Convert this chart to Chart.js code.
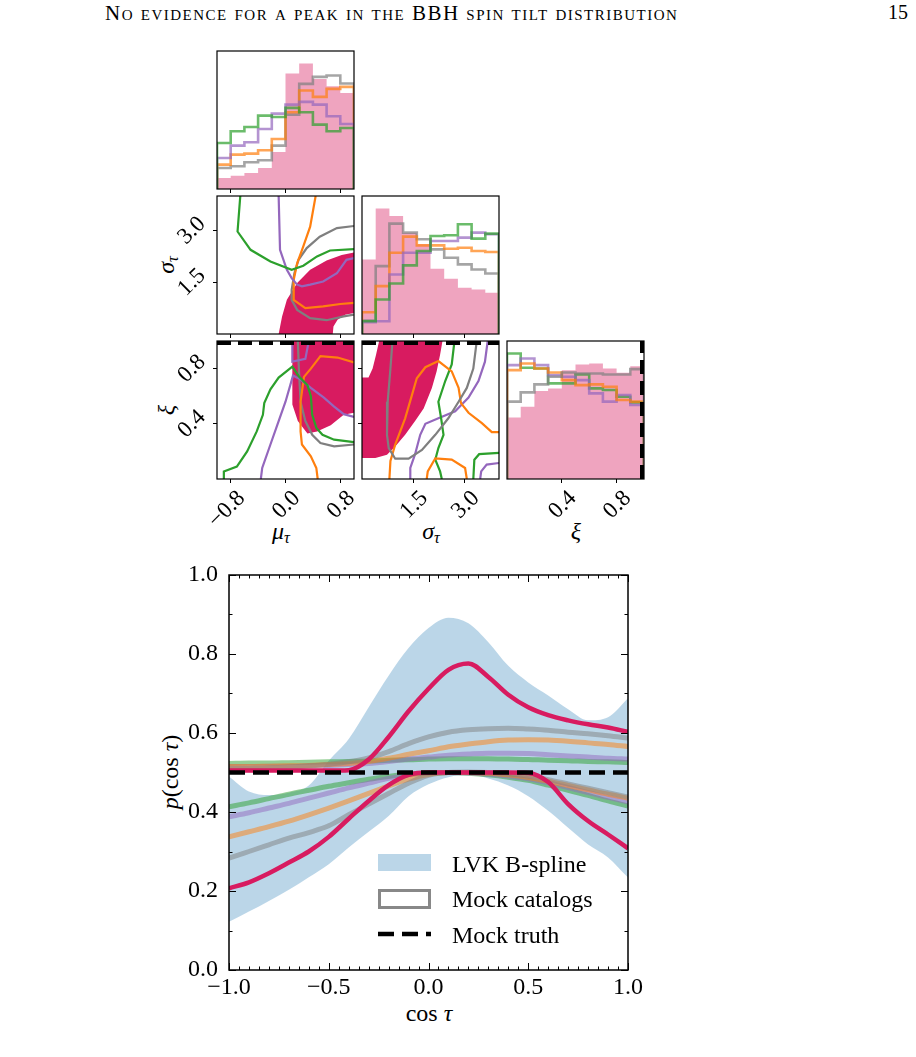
<!DOCTYPE html>
<html>
<head>
<meta charset="utf-8">
<script src="https://cdn.jsdelivr.net/npm/chart.js@4.4.0/dist/chart.umd.min.js"></script>
<style>
  body { margin: 0; background: #fff; width: 916px; height: 1057px; position: relative; overflow: hidden;
         font-family: "Liberation Serif", serif; color: #000; }
  canvas { position: absolute; }
  .lbl { position: absolute; transform: translate(-50%, -50%); white-space: nowrap; }
  .rot { transform: translate(-50%, -50%) rotate(-90deg); }
  .lbl i { font-style: italic; }
  sub { font-size: 0.68em; vertical-align: -0.3em; line-height: 0; }
  #header { position: absolute; left: 105px; top: 1px; font-size: 21px; letter-spacing: 1.5px; font-variant: small-caps; }
  #pageno { position: absolute; left: 888px; top: 1px; font-size: 20px; }
</style>
</head>
<body>
<div id="header">No evidence for a peak in the BBH spin tilt distribution</div>
<div id="pageno">15</div>

<div class="lbl" style="left:281px; top:531px; font-size:24px;"><i>μ</i><sub><i>τ</i></sub></div>
<div class="lbl" style="left:431px; top:531px; font-size:24px;"><i>σ</i><sub><i>τ</i></sub></div>
<div class="lbl" style="left:576px; top:531px; font-size:24px;"><i>ξ</i></div>
<div class="lbl rot" style="left:166px; top:265px; font-size:24px;"><i>σ</i><sub><i>τ</i></sub></div>
<div class="lbl rot" style="left:166px; top:410px; font-size:24px;"><i>ξ</i></div>
<div class="lbl rot" style="left:170px; top:772px; font-size:24px;"><i>p</i>(cos <i>τ</i>)</div>
<div class="lbl" style="left:429px; top:1013px; font-size:24px;">cos <i>τ</i></div>

<script>
Chart.defaults.font.family = '"Liberation Serif", serif';
Chart.defaults.color = '#000';
Chart.defaults.animation = false;

// ---------------- corner plot: 1D histograms ----------------
const muEdges  = [-1.0, -0.8, -0.6, -0.4, -0.2, 0.0, 0.2, 0.4, 0.6, 0.8, 1.0];
const sigEdges = [0.0, 0.4, 0.8, 1.2, 1.6, 2.0, 2.4, 2.8, 3.2, 3.6, 4.0];
const xiEdges  = [0.0, 0.1, 0.2, 0.3, 0.4, 0.5, 0.6, 0.7, 0.8, 0.9, 1.0];

const muHistLVK    = [0.33, 0.40, 0.48, 0.63, 1.11, 3.46, 3.76, 3.30, 3.08, 2.88];
const muHistGray   = [0.63, 0.68, 0.80, 0.86, 1.30, 2.23, 3.15, 3.36, 3.40, 3.16];
const muHistOrange = [0.73, 1.03, 1.06, 1.16, 1.50, 2.30, 2.95, 2.76, 3.00, 3.06];
const muHistPurple = [0.93, 1.30, 1.40, 1.80, 2.26, 2.53, 2.61, 2.53, 2.18, 1.95];
const muHistGreen  = [1.38, 1.73, 1.86, 2.20, 2.16, 2.43, 2.30, 1.93, 1.73, 1.83];

const sigHistLVK    = [2.23, 3.75, 3.53, 3.03, 2.68, 1.95, 1.65, 1.38, 1.33, 1.23];
const sigHistGray   = [0.40, 2.03, 3.30, 3.03, 2.83, 2.53, 2.28, 2.08, 1.93, 1.81];
const sigHistOrange = [0.65, 1.43, 2.43, 2.91, 2.65, 2.65, 2.55, 2.58, 2.48, 2.45];
const sigHistPurple = [0.35, 0.38, 1.78, 2.43, 2.43, 2.78, 2.78, 2.88, 3.03, 2.98];
const sigHistGreen  = [0.38, 1.03, 1.51, 2.05, 2.48, 2.93, 2.95, 3.28, 2.85, 3.00];

const xiHistLVK    = [1.85, 2.18, 2.65, 2.73, 3.28, 3.45, 3.48, 3.33, 3.20, 3.40];
const xiHistGray   = [2.33, 2.61, 2.85, 3.08, 3.21, 3.18, 3.18, 3.15, 3.15, 3.31];
const xiHistOrange = [3.28, 3.48, 3.33, 3.21, 2.98, 2.83, 2.85, 2.78, 2.38, 2.33];
const xiHistPurple = [3.43, 3.63, 3.43, 3.13, 3.08, 2.98, 2.58, 2.33, 2.53, 2.23];
const xiHistGreen  = [3.78, 3.35, 3.33, 2.88, 2.88, 3.15, 2.73, 2.68, 2.48, 2.31];

// ---------------- corner plot: 2D contours [x, y] ----------------
const muSigLVK = [[-0.10,0],[-0.05,0.51],[0.02,0.99],[0.17,1.48],[0.36,1.86],[0.60,2.13],[0.82,2.29],[1.0,2.36],
                  [1.0,0.61],[0.87,0.56],[0.76,0.41],[0.70,0.22],[0.69,0],[-0.10,0]];
const muSigGreen  = [[-0.66,4.0],[-0.70,2.97],[-0.51,2.44],[-0.22,2.10],[0.09,1.86],[0.26,1.98],[0.46,2.25],[0.65,2.42],[1.0,2.46]];
const muSigPurple = [[-0.10,4.0],[-0.08,2.44],[0.02,1.86],[0.09,1.62],[0.17,1.43],[0.24,1.38],[0.36,1.43],[0.55,1.52],[0.75,1.76],[0.89,2.15],[1.0,2.20]];
const muSigOrange = [[0.44,4.0],[0.36,3.11],[0.26,2.54],[0.17,2.05],[0.12,1.57],[0.12,0.99],[0.29,0.75],[0.55,0.80],[0.80,0.87],[1.0,0.90]];
const muSigGray   = [[1.0,3.13],[0.75,3.07],[0.50,2.82],[0.31,2.49],[0.19,2.15],[0.13,1.76],[0.09,1.28],[0.09,0.99],[0.17,0.70],[0.36,0.46],[0.60,0.40],[0.85,0.51],[1.0,0.56]];

const muXiLVK = [[0.10,1.0],[0.10,0.54],[0.18,0.42],[0.32,0.33],[0.46,0.345],[0.66,0.39],[0.85,0.465],[1.0,0.48],[1.0,1.0],[0.10,1.0]];
const muXiGreen  = [[-0.91,0],[-0.90,0.055],[-0.71,0.09],[-0.56,0.20],[-0.42,0.345],[-0.33,0.465],[-0.31,0.55],[-0.22,0.65],[-0.10,0.735],
                    [0.10,0.815],[0.20,0.74],[0.32,0.68],[0.37,0.60],[0.39,0.465],[0.45,0.37],[0.54,0.32],[0.71,0.285],[1.0,0.267]];
const muXiPurple = [[-0.36,0],[-0.34,0.08],[-0.22,0.25],[-0.10,0.42],[0.0,0.56],[0.07,0.68],[0.11,0.75],[0.22,0.72],[0.37,0.66],
                    [0.56,0.59],[0.71,0.525],[0.85,0.47],[1.0,0.45]];
const muXiPurple2 = [[0.10,1.0],[0.10,0.85],[0.29,0.87],[0.34,1.0]];
const muXiOrange = [[0.47,0],[0.45,0.08],[0.37,0.165],[0.24,0.25],[0.22,0.345],[0.22,0.56],[0.27,0.74],[0.37,0.80],[0.51,0.89],[0.76,0.88],[1.0,0.845]];
const muXiGray   = [[0.18,1.0],[0.195,0.80],[0.22,0.56],[0.29,0.42],[0.39,0.32],[0.51,0.26],[0.71,0.236],[1.0,0.25]];

const sigXiLVK = [[0,0.735],[0.19,0.735],[0.31,0.80],[0.41,0.90],[0.50,1.0],[2.35,1.0],[2.28,0.90],[2.18,0.78],[2.04,0.66],[1.80,0.51],
                  [1.55,0.42],[1.26,0.32],[0.97,0.236],[0.73,0.176],[0.39,0.152],[0,0.152],[0,0.735]];
const sigXiGray    = [[0.89,1.0],[0.83,0.80],[0.75,0.56],[0.73,0.32],[0.78,0.224],[0.97,0.147],[1.36,0.147],[1.75,0.21],[2.14,0.32],
                      [2.52,0.44],[2.82,0.56],[3.06,0.66],[3.25,0.80],[3.35,1.0]];
const sigXiOrange  = [[0.80,0],[0.83,0.13],[0.97,0.25],[1.26,0.44],[1.46,0.61],[1.60,0.73],[1.85,0.81],[2.23,0.855],[2.62,0.78],
                      [2.82,0.66],[2.89,0.55],[3.11,0.48],[3.50,0.405],[3.79,0.34],[4.0,0.34]];
const sigXiOrange2 = [[1.89,0],[1.92,0.055],[2.14,0.15],[2.62,0.14],[3.01,0.08],[3.06,0]];
const sigXiGreen   = [[2.70,1.0],[2.62,0.83],[2.43,0.71],[2.23,0.56],[2.31,0.44],[2.38,0.32],[2.23,0.224],[2.14,0.14],[2.28,0.055],[2.33,0]];
const sigXiGreen2  = [[3.25,0],[3.28,0.14],[3.42,0.18],[4.0,0.19]];
const sigXiPurple  = [[3.67,1.0],[3.59,0.85],[3.40,0.71],[3.11,0.59],[2.72,0.49],[2.23,0.44],[1.85,0.40],[1.70,0.32],[1.55,0.18],[1.41,0.08],[1.41,0]];
const sigXiPurple2 = [[3.45,0],[3.48,0.055],[3.64,0.104],[4.0,0.116]];

const xiTruth = 1.0;

// ---------------- main panel: p(cos tau) ----------------
const cosTau = [-1.0,-0.9,-0.8,-0.7,-0.6,-0.5,-0.4,-0.3,-0.2,-0.1,0.0,0.1,0.2,0.3,0.4,0.5,0.6,0.7,0.8,0.9,1.0];
const lvkUpper = [0.490,0.452,0.443,0.449,0.467,0.530,0.585,0.665,0.745,0.815,0.866,0.892,0.878,0.830,0.770,0.728,0.695,0.660,0.632,0.640,0.688];
const lvkLower = [0.122,0.148,0.175,0.203,0.235,0.268,0.310,0.350,0.390,0.440,0.470,0.488,0.494,0.485,0.467,0.440,0.403,0.360,0.318,0.285,0.234];
const pinkUpper   = [0.505,0.505,0.505,0.505,0.505,0.505,0.506,0.533,0.590,0.655,0.712,0.760,0.776,0.742,0.697,0.665,0.645,0.632,0.622,0.614,0.603];
const pinkLower   = [0.207,0.222,0.245,0.272,0.300,0.337,0.383,0.428,0.468,0.494,0.500,0.500,0.500,0.500,0.500,0.499,0.476,0.420,0.377,0.343,0.308];
const grayUpper   = [0.510,0.511,0.512,0.514,0.517,0.521,0.527,0.537,0.553,0.573,0.590,0.602,0.608,0.611,0.612,0.610,0.607,0.602,0.598,0.593,0.587];
const grayLower   = [0.283,0.300,0.317,0.334,0.348,0.365,0.393,0.420,0.447,0.473,0.493,0.500,0.501,0.500,0.497,0.491,0.482,0.471,0.460,0.449,0.438];
const tanUpper    = [0.515,0.515,0.516,0.517,0.518,0.520,0.523,0.528,0.536,0.546,0.555,0.565,0.572,0.578,0.582,0.583,0.582,0.579,0.575,0.571,0.566];
const tanLower    = [0.337,0.350,0.363,0.377,0.393,0.410,0.428,0.447,0.466,0.483,0.495,0.500,0.500,0.498,0.494,0.487,0.478,0.467,0.456,0.445,0.435];
const purpleUpper = [0.515,0.515,0.516,0.516,0.517,0.518,0.520,0.523,0.528,0.534,0.539,0.544,0.547,0.549,0.549,0.548,0.545,0.542,0.539,0.536,0.534];
const purpleLower = [0.388,0.398,0.410,0.422,0.435,0.448,0.461,0.473,0.485,0.494,0.499,0.500,0.499,0.496,0.491,0.484,0.474,0.462,0.449,0.437,0.425];
const greenUpper  = [0.523,0.524,0.524,0.525,0.526,0.527,0.528,0.529,0.531,0.532,0.534,0.535,0.535,0.535,0.534,0.533,0.531,0.530,0.528,0.527,0.525];
const greenLower  = [0.413,0.423,0.434,0.445,0.455,0.465,0.474,0.483,0.490,0.496,0.499,0.500,0.498,0.494,0.488,0.480,0.468,0.455,0.442,0.428,0.415];
const truthLevel = 0.5;
const legendLabels = ['LVK B-spline', 'Mock catalogs', 'Mock truth'];

// ---------------- styles ----------------
const CRIMSON = '#d81b60';
const PINK = 'rgba(216,27,96,0.4)';
const BAND = 'rgba(31,119,180,0.3)';
const C = { gray: '#7f7f7f', orange: '#ff7f0e', purple: '#9467bd', green: '#2ca02c' };
const alpha = (hex, a) => {
  const n = parseInt(hex.slice(1), 16);
  return `rgba(${n >> 16},${(n >> 8) & 255},${n & 255},${a})`;
};
const fmt = v => v.toFixed(1).replace('-', '\u2212');
const pts = arr => arr.map(([x, y]) => ({x, y}));
const xy = (xs, ys) => xs.map((x, i) => ({x, y: ys[i]}));

function stepPts(edges, h) {
  const out = [{x: edges[0], y: 0}];
  h.forEach((v, i) => { out.push({x: edges[i], y: v}); out.push({x: edges[i + 1], y: v}); });
  out.push({x: edges[edges.length - 1], y: 0});
  return out;
}

// axis sizes are fixed so that every plot area lands where the figure has it
const fixSize = (isX, size) => s => {
  if (isX) s.height = size; else s.width = size;
  s.paddingTop = s.paddingBottom = s.paddingLeft = s.paddingRight = 0;
};

// frame round the plot area
const frame = {
  id: 'frame',
  afterDatasetsDraw(chart, args, opts) {
    const {ctx, chartArea: a} = chart;
    ctx.save();
    ctx.strokeStyle = '#000';
    ctx.lineWidth = opts.width || 1;
    ctx.strokeRect(a.left, a.top, a.right - a.left, a.bottom - a.top);
    ctx.restore();
  }
};

// ---------------- corner panels ----------------
const COLS = [217, 362, 507];
const ROWS = [51, 196, 341];
const PW = 137, PH = 138;
const PAD_L = 60, PAD_T = 6, PAD_R = 6, PAD_B = 70;

function cornerAxis(isX, min, max, ticks, labels) {
  return {
    type: 'linear', min, max,
    afterBuildTicks: s => { if (ticks) s.ticks = ticks.map(v => ({value: v})); },
    afterFit: fixSize(isX, isX ? PAD_B : PAD_L),
    grid: { display: !!ticks, drawOnChartArea: false, drawTicks: true, tickLength: 4, color: '#000', tickColor: '#000' },
    border: { display: false },
    ticks: { display: !!labels, font: {size: 23}, minRotation: 45, maxRotation: 45, padding: isX ? 2 : 11,
             labelOffset: isX ? 11 : -10, callback: fmt, color: '#000' }
  };
}

function cornerPanel(col, row, o) {
  const cv = document.createElement('canvas');
  cv.width = PAD_L + PW + PAD_R;
  cv.height = PAD_T + PH + PAD_B;
  cv.style.left = (COLS[col] - PAD_L) + 'px';
  cv.style.top = (ROWS[row] - PAD_T) + 'px';
  document.body.appendChild(cv);
  new Chart(cv, {
    type: 'line',
    data: { datasets: o.datasets },
    options: {
      responsive: false,
      animation: false,
      layout: { padding: {top: PAD_T, right: PAD_R, left: 0, bottom: 0} },
      elements: { point: {radius: 0}, line: {tension: 0} },
      plugins: { legend: {display: false}, tooltip: {enabled: false}, frame: {width: 1.2} },
      scales: {
        x: cornerAxis(true, o.x[0], o.x[1], o.xTicks, row === 2),
        y: cornerAxis(false, o.y[0], o.y[1], o.yTicks, col === 0 && row > 0)
      }
    },
    plugins: [frame]
  });
}

const histLine = (edges, h, col) => ({ data: stepPts(edges, h), borderColor: alpha(col, 0.7), borderWidth: 2.6, fill: false, order: 2 });
const histFill = (edges, h) => ({ data: stepPts(edges, h), borderWidth: 0, backgroundColor: PINK, fill: 'origin', order: 9 });
const contour = (arr, col) => ({ data: pts(arr), borderColor: col, borderWidth: 2.2, fill: false, order: 2 });
const region = arr => ({ data: pts(arr), borderWidth: 0, backgroundColor: CRIMSON, fill: 'shape', order: 9 });
const hTruth = (x0, x1) => ({ data: [{x: x0, y: xiTruth}, {x: x1, y: xiTruth}], borderColor: '#000', borderWidth: 8,
                              borderDash: [14, 7], clip: 0, fill: false, order: 0 });
const histMax = (...hs) => 1.1 * Math.max(...hs.flat());

const MU_T = [-0.8, 0.0, 0.8], SIG_T = [1.5, 3.0], XI_T = [0.4, 0.8];

cornerPanel(0, 0, {
  x: [-1, 1], y: [0, histMax(muHistLVK, muHistGray, muHistOrange, muHistPurple, muHistGreen)], xTicks: MU_T,
  datasets: [histFill(muEdges, muHistLVK), histLine(muEdges, muHistGreen, C.green), histLine(muEdges, muHistPurple, C.purple),
             histLine(muEdges, muHistOrange, C.orange), histLine(muEdges, muHistGray, C.gray)]
});
cornerPanel(0, 1, {
  x: [-1, 1], y: [0, 4], xTicks: MU_T, yTicks: SIG_T,
  datasets: [region(muSigLVK), contour(muSigGreen, C.green), contour(muSigPurple, C.purple),
             contour(muSigOrange, C.orange), contour(muSigGray, C.gray)]
});
cornerPanel(1, 1, {
  x: [0, 4], y: [0, histMax(sigHistLVK, sigHistGray, sigHistOrange, sigHistPurple, sigHistGreen)], xTicks: SIG_T,
  datasets: [histFill(sigEdges, sigHistLVK), histLine(sigEdges, sigHistGreen, C.green), histLine(sigEdges, sigHistPurple, C.purple),
             histLine(sigEdges, sigHistOrange, C.orange), histLine(sigEdges, sigHistGray, C.gray)]
});
cornerPanel(0, 2, {
  x: [-1, 1], y: [0, 1], xTicks: MU_T, yTicks: XI_T,
  datasets: [region(muXiLVK), contour(muXiGreen, C.green), contour(muXiPurple, C.purple), contour(muXiPurple2, C.purple),
             contour(muXiOrange, C.orange), contour(muXiGray, C.gray), hTruth(-1, 1)]
});
cornerPanel(1, 2, {
  x: [0, 4], y: [0, 1], xTicks: SIG_T, yTicks: XI_T,
  datasets: [region(sigXiLVK), contour(sigXiGray, C.gray), contour(sigXiOrange, C.orange), contour(sigXiOrange2, C.orange),
             contour(sigXiGreen, C.green), contour(sigXiGreen2, C.green), contour(sigXiPurple, C.purple),
             contour(sigXiPurple2, C.purple), hTruth(0, 4)]
});
const xiMax = histMax(xiHistLVK, xiHistGray, xiHistOrange, xiHistPurple, xiHistGreen);
cornerPanel(2, 2, {
  x: [0, 1], y: [0, xiMax], xTicks: XI_T,
  datasets: [histFill(xiEdges, xiHistLVK), histLine(xiEdges, xiHistGray, C.gray), histLine(xiEdges, xiHistOrange, C.orange),
             histLine(xiEdges, xiHistPurple, C.purple), histLine(xiEdges, xiHistGreen, C.green),
             { data: [{x: xiTruth, y: 0}, {x: xiTruth, y: xiMax}], borderColor: '#000', borderWidth: 8,
               borderDash: [14, 7], clip: 0, fill: false, order: 0 }]
});

// ---------------- main panel ----------------
const innerTicks = {
  id: 'innerTicks',
  afterDraw(chart, args, o) {
    const {ctx, chartArea: a, scales: {x, y}} = chart;
    ctx.save();
    ctx.strokeStyle = '#000';
    ctx.lineWidth = 1;
    const seg = (x1, y1, x2, y2) => { ctx.beginPath(); ctx.moveTo(x1, y1); ctx.lineTo(x2, y2); ctx.stroke(); };
    const each = (s, step, fn) => {
      const n = Math.round((s.max - s.min) / step);
      for (let i = 0; i <= n; i++) fn(s.min + i * step);
    };
    const xMark = (v, len) => { const p = Math.round(x.getPixelForValue(v)) + 0.5; seg(p, a.bottom, p, a.bottom - len); seg(p, a.top, p, a.top + len); };
    const yMark = (v, len) => { const p = Math.round(y.getPixelForValue(v)) + 0.5; seg(a.left, p, a.left + len, p); seg(a.right, p, a.right - len, p); };
    each(x, o.xMinor, v => xMark(v, o.minor));
    each(y, o.yMinor, v => yMark(v, o.minor));
    x.ticks.forEach(t => xMark(t.value, o.major));
    y.ticks.forEach(t => yMark(t.value, o.major));
    ctx.restore();
  }
};

const insideLegend = {
  id: 'insideLegend',
  afterDraw(chart, args, o) {
    const {ctx, chartArea: a} = chart;
    const x0 = a.left + o.x, y0 = a.top + o.y;
    ctx.save();
    ctx.font = '24px "Liberation Serif", serif';
    o.labels.forEach((text, i) => {
      const cy = y0 + i * o.rowH;
      if (i === 0) {
        ctx.fillStyle = BAND;
        ctx.fillRect(x0, cy - 9, 53, 17);
      } else if (i === 1) {
        ctx.strokeStyle = '#888';
        ctx.lineWidth = 3;
        ctx.strokeRect(x0 + 1.5, cy - 8, 50, 17);
      } else {
        ctx.strokeStyle = '#000';
        ctx.lineWidth = 4.5;
        ctx.setLineDash([16, 8]);
        ctx.beginPath(); ctx.moveTo(x0, cy); ctx.lineTo(x0 + 53, cy); ctx.stroke();
        ctx.setLineDash([]);
      }
      ctx.fillStyle = '#000';
      ctx.textBaseline = 'alphabetic';
      ctx.fillText(text, x0 + 74, cy + 8.5);
    });
    ctx.restore();
  }
};

const mainCv = document.createElement('canvas');
mainCv.width = 520; mainCv.height = 465;
mainCv.style.left = '130px'; mainCv.style.top = '565px';
document.body.appendChild(mainCv);

const catLine = (ys, col) => ({ data: xy(cosTau, ys), borderColor: alpha(col, 0.5), borderWidth: 5, fill: false, order: 5 });

new Chart(mainCv, {
  type: 'line',
  data: {
    datasets: [
      { data: xy(cosTau, lvkUpper), borderWidth: 0, backgroundColor: BAND, fill: '+1', order: 20 },
      { data: xy(cosTau, lvkLower), borderWidth: 0, fill: false, order: 21 },
      catLine(grayUpper, C.gray), catLine(grayLower, C.gray),
      catLine(tanUpper, C.orange), catLine(tanLower, C.orange),
      catLine(purpleUpper, C.purple), catLine(purpleLower, C.purple),
      catLine(greenUpper, C.green), catLine(greenLower, C.green),
      { data: xy(cosTau, pinkUpper), borderColor: CRIMSON, borderWidth: 4.5, fill: false, order: 2 },
      { data: xy(cosTau, pinkLower), borderColor: CRIMSON, borderWidth: 4.5, fill: false, order: 2 },
      { data: [{x: -1, y: truthLevel}, {x: 1, y: truthLevel}], borderColor: '#000', borderWidth: 4.5,
        borderDash: [16, 8], fill: false, order: 0 }
    ]
  },
  options: {
    responsive: false,
    animation: false,
    layout: { padding: {top: 10, right: 22, left: 0, bottom: 0} },
    elements: { point: {radius: 0}, line: {cubicInterpolationMode: 'monotone'} },
    plugins: {
      legend: {display: false}, tooltip: {enabled: false},
      frame: {width: 1.5},
      innerTicks: {xMinor: 0.05, yMinor: 0.1, minor: 3.5, major: 7},
      insideLegend: {labels: legendLabels, x: 149, y: 288, rowH: 35.5}
    },
    scales: {
      x: {
        type: 'linear', min: -1, max: 1,
        afterBuildTicks: s => { s.ticks = [-1, -0.5, 0, 0.5, 1].map(v => ({value: v})); },
        afterFit: fixSize(true, 60),
        grid: {display: false, drawTicks: false}, border: {display: false},
        ticks: {font: {size: 24}, padding: 3, maxRotation: 0, callback: fmt, color: '#000'}
      },
      y: {
        type: 'linear', min: 0, max: 1,
        afterBuildTicks: s => { s.ticks = [0, 0.2, 0.4, 0.6, 0.8, 1.0].map(v => ({value: v})); },
        afterFit: fixSize(false, 99),
        grid: {display: false, drawTicks: false}, border: {display: false},
        ticks: {font: {size: 24}, padding: 11, callback: fmt, color: '#000'}
      }
    }
  },
  plugins: [frame, innerTicks, insideLegend]
});
</script>
</body>
</html>
